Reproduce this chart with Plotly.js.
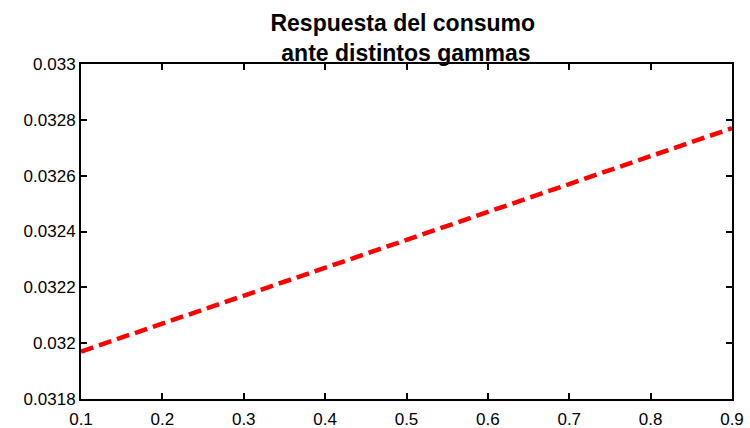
<!DOCTYPE html>
<html>
<head>
<meta charset="utf-8">
<script src="https://cdn.plot.ly/plotly-3.0.1.min.js"></script>
<style>html,body{margin:0;padding:0;background:#fff;}#chart{width:750px;height:428px;}</style>
</head>
<body>
<div id="chart"></div>
<script>
var gammas = [0.1, 0.2, 0.3, 0.4, 0.5, 0.6, 0.7, 0.8, 0.9];
var consumo = [0.03197, 0.03207, 0.03217, 0.03227, 0.03237, 0.03247, 0.03257, 0.03267, 0.03277];
var xTickVals = [0.1, 0.2, 0.3, 0.4, 0.5, 0.6, 0.7, 0.8, 0.9];
var xTickText = ["0.1", "0.2", "0.3", "0.4", "0.5", "0.6", "0.7", "0.8", "0.9"];
var yTickVals = [0.0318, 0.032, 0.0322, 0.0324, 0.0326, 0.0328, 0.033];
var yTickText = ["0.0318", "0.032", "0.0322", "0.0324", "0.0326", "0.0328", "0.033"];

var trace = {
  x: gammas, y: consumo, type: 'scatter', mode: 'lines',
  line: {color: '#ff0000', width: 4.5, dash: '13px,6px'},
  hoverinfo: 'skip'
};
var axisCommon = {
  showgrid: false, zeroline: false, showline: true, linecolor: '#000', linewidth: 2,
  mirror: 'ticks', ticks: 'inside', ticklen: 6, tickwidth: 2, tickcolor: '#000',
  tickfont: {family: 'Liberation Sans, Arial, sans-serif', size: 17, color: '#000'}
};
var layout = {
  width: 750, height: 428,
  margin: {l: 81, r: 18, t: 64, b: 29},
  paper_bgcolor: '#fff', plot_bgcolor: '#fff',
  showlegend: false,
  title: {
    text: '<b>Respuesta del consumo<br> ante distintos gammas</b>',
    font: {family: 'Liberation Sans, Arial, sans-serif', size: 23, color: '#000'},
    x: 0.537, xanchor: 'center', xref: 'container',
    y: 0.928, yanchor: 'top', yref: 'container'
  },
  xaxis: Object.assign({}, axisCommon, {range: [0.1, 0.9], tickvals: xTickVals, ticktext: xTickText, ticklabelstandoff: 4}),
  yaxis: Object.assign({}, axisCommon, {range: [0.0318, 0.033], tickvals: yTickVals, ticktext: yTickText})
};
Plotly.newPlot('chart', [trace], layout, {displayModeBar: false, staticPlot: true});
</script>
</body>
</html>
